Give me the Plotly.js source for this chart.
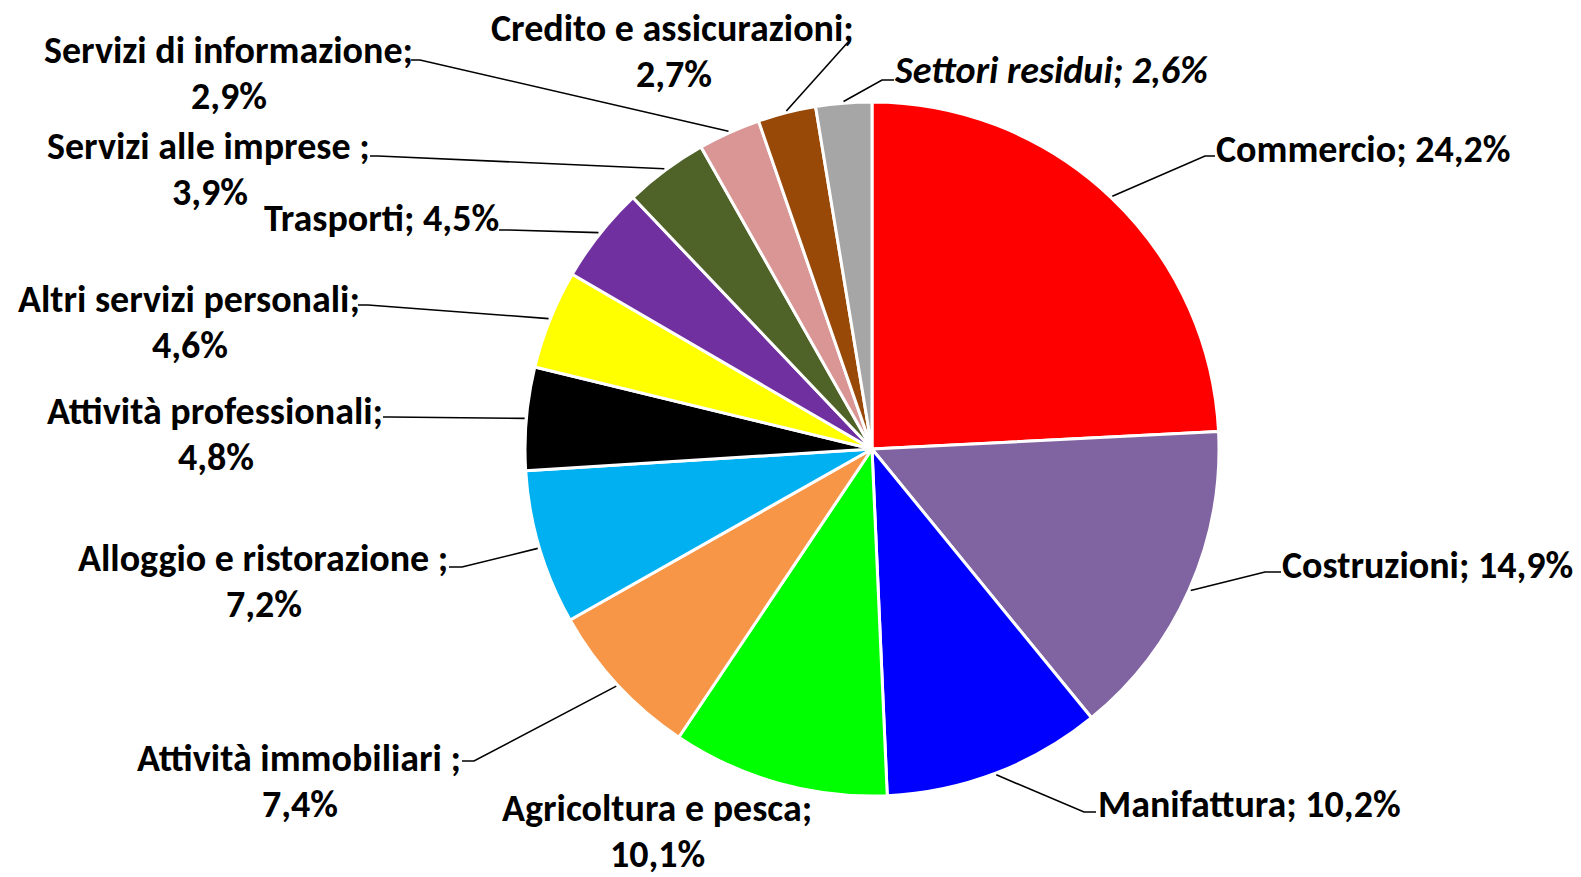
<!DOCTYPE html>
<html>
<head>
<meta charset="utf-8">
<script src="https://cdn.plot.ly/plotly-3.0.1.min.js"></script>
<style>html,body{margin:0;padding:0;background:#fff;}#chart{width:1581px;height:877px;}</style>
</head>
<body>
<div id="chart"></div>
<script>
// ---- data ----
const categories = ['Commercio', 'Costruzioni', 'Manifattura', 'Agricoltura e pesca', 'Attività immobiliari ', 'Alloggio e ristorazione ', 'Attività professionali', 'Altri servizi personali', 'Trasporti', 'Servizi alle imprese ', 'Servizi di informazione', 'Credito e assicurazioni', 'Settori residui'];
const values = [24.2, 14.9, 10.2, 10.1, 7.4, 7.2, 4.8, 4.6, 4.5, 3.9, 2.9, 2.7, 2.6];
const colors = ['#FF0000', '#8064A2', '#0000FF', '#00FF00', '#F79646', '#00B0F0', '#000000', '#FFFF00', '#7030A0', '#4F6228', '#D99694', '#984807', '#A6A6A6'];

// ---- label layout (pixel positions of label text and leader bends) ----
const labelX      = [1215, 1281, 1097, 657, 462, 449, 384, 361, 500, 371, 414, 855, 893];
const labelY      = [149, 565, 804, 808, 758, 558, 411, 299, 218, 146, 50, 28, 70];
const labelAnchor = ['left','left','left','center','right','right','right','right','right','right','right','right','left'];
const twoLines    = [false,false,false,true,true,true,true,true,false,true,true,true,false];
const italicLbl   = [false,false,false,false,false,false,false,false,false,false,false,false,true];
const hasLeader   = [true,true,true,false,true,true,true,true,true,true,true,true,true];
const bendX = [1205, 1265, 1084, null, 474, 462, 390, 368, 509, 378, 420, 849, 882];
const bendY = [156, 572, 812, null, 761, 567, 417, 305, 230, 156, 60, 41, 80];
const endX  = [1215, 1281, 1096, null, 462, 449, 383, 358, 499, 370, 411, 849, 894];
const endY  = [156, 572, 812, null, 761, 567, 417, 305, 230, 156, 60, 41, 80];

// ---- geometry ----
const W = 1581, H = 877;
const CX = 872, CY = 449, R = 347;
const FS = 38;
const LS = 46;
const FONT = 'Carlito, Lato, "Liberation Sans", sans-serif';

const total = values.reduce((a, b) => a + b, 0);
const fmt = v => v.toFixed(1).replace('.', ',') + '%';
const px = x => x / W;
const py = y => 1 - y / H;

const ctx = document.createElement('canvas').getContext('2d');
function measure(t, it) {
  ctx.font = (it ? 'italic ' : '') + 'bold ' + FS + 'px ' + FONT;
  return ctx.measureText(t).width;
}
function wrap(t, it) { return it ? '<i>' + t + '</i>' : t; }

const annotations = [];
const shapes = [];
let cum = 0;
values.forEach((v, i) => {
  const mid = (cum + v / 2) / total * 2 * Math.PI;
  cum += v;
  const font = {family: FONT, size: FS, color: '#000', weight: 'bold'};
  if (twoLines[i]) {
    const l1 = categories[i] + ';';
    const l2 = fmt(v);
    const w1 = measure(l1, italicLbl[i]);
    let cxl = labelX[i];
    if (labelAnchor[i] === 'right') cxl = labelX[i] - w1 / 2;
    if (labelAnchor[i] === 'left') cxl = labelX[i] + w1 / 2;
    annotations.push({x: px(labelX[i]), y: py(labelY[i]), xref: 'paper', yref: 'paper', borderpad: 0,
      xanchor: labelAnchor[i], yanchor: 'middle', text: wrap(l1, italicLbl[i]), showarrow: false, font: font});
    annotations.push({x: px(cxl), y: py(labelY[i] + LS), xref: 'paper', yref: 'paper', borderpad: 0,
      xanchor: 'center', yanchor: 'middle', text: wrap(l2, italicLbl[i]), showarrow: false, font: font});
  } else {
    annotations.push({x: px(labelX[i]), y: py(labelY[i]), xref: 'paper', yref: 'paper', borderpad: 0,
      xanchor: labelAnchor[i], yanchor: 'middle', text: wrap(categories[i] + '; ' + fmt(v), italicLbl[i]),
      showarrow: false, font: font});
  }
  if (hasLeader[i]) {
    const sx = CX + R * 1.005 * Math.sin(mid);
    const sy = CY - R * 1.005 * Math.cos(mid);
    const path = 'M' + px(sx) + ',' + py(sy) + ' L' + px(bendX[i]) + ',' + py(bendY[i]) + ' L' + px(endX[i]) + ',' + py(endY[i]);
    shapes.push({type: 'path', xref: 'paper', yref: 'paper', path: path, line: {color: '#000', width: 1.6}});
  }
});

const trace = {
  type: 'pie',
  labels: categories,
  values: values,
  sort: false,
  direction: 'clockwise',
  rotation: 0,
  textinfo: 'none',
  hoverinfo: 'label+percent',
  marker: {colors: colors, line: {color: '#FFFFFF', width: 3}},
  domain: {x: [(CX - R) / W, (CX + R) / W], y: [1 - (CY + R) / H, 1 - (CY - R) / H]},
  showlegend: false
};

const layout = {
  width: W, height: H,
  margin: {l: 0, r: 0, t: 0, b: 0},
  paper_bgcolor: '#FFFFFF',
  showlegend: false,
  annotations: annotations,
  shapes: shapes
};

Plotly.newPlot('chart', [trace], layout, {displayModeBar: false, staticPlot: true});
</script>
</body>
</html>
